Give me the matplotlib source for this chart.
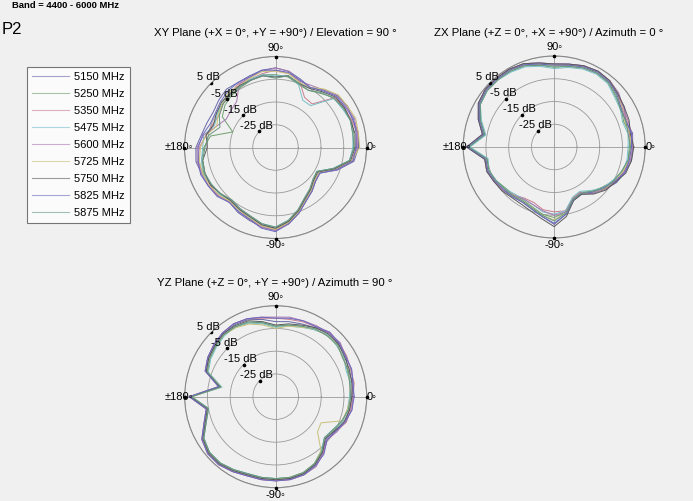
import numpy as np
import matplotlib
matplotlib.use("Agg")
import matplotlib.pyplot as plt
from matplotlib.lines import Line2D

plt.rcParams['font.family'] = ['Liberation Sans', 'DejaVu Sans']

W, H = 693, 501
BG = '#f0f0f0'

# gain in dB, sampled every 10 degrees from 0 (= +X / +Z) counter-clockwise
angles_deg = list(range(0, 360, 10))

freqs = ['5150 MHz', '5250 MHz', '5350 MHz', '5475 MHz', '5600 MHz',
         '5725 MHz', '5750 MHz', '5825 MHz', '5875 MHz']
colors = ['#6868a8', '#6f9f6f', '#c87c90', '#78c0c8', '#a878b0',
          '#c8c078', '#5a5a5a', '#6a6ac0', '#679781']

xy_db = [
    [1.5, 2, 1, 1.5, 0.5, -2, -4.5, -3, -1, 0, -0.5, -1.5, -2, -1.5, -2.5, -3.5, -3, -2,
     0, 0.5, -0.5, -1, -2, -3.5, -2, -1, 0.5, 1.5, -1, -4.5, -8, -10, -12, -12.5, -6, 0],
    [-0.5, 0, 0.5, -0.5, -1, -4, -6, -5.5, -3.5, -3, -2.5, -3.5, -4.5, -5, -6, -8, -15, -6,
     -3.5, -2, -1.5, -2.5, -3, -4.5, -3.5, -2.5, -0.5, 0.5, -2, -5.5, -9, -11, -13, -14, -8, -2],
    [0.5, 1.5, 0.5, 0, -1, -10, -9.5, -4, -2, -1, -2, -3, -2.5, -4, -5, -6.5, -5.5, -4,
     -1.5, -0.5, -1, -2, -2, -4, -3.5, -1.5, 0, 1, -1.5, -5, -8.5, -10.5, -12.5, -13, -7, -1],
    [-1, -0.5, 0, -1, -1.5, -11, -11, -5.5, -3, -3.5, -2.5, -3, -4, -3, -4.5, -5.5, -6.5, -3,
     -3, -2, -1, -2.5, -3, -5, -3.5, -2.5, -1, 0, -2.5, -5.5, -9, -11, -13, -14, -8, -2],
    [1, 1.5, 2, 1, 0.5, -2, -3.5, -4, -1, 0, -1, -2, -3, -8.5, -9.5, -10, -7.5, -3,
     -0.5, 0, -0.5, -1, -2, -3.5, -2.5, -1.5, 0.5, 1.5, -1, -4.5, -8, -10, -12, -12.5, -6.5, -0.5],
    [2, 2, 2.5, 1.5, 1, -1.5, -4.5, -4.5, -2, -1.5, -1, -2.5, -3.5, -3, -4.5, -6, -7.5, -4,
     -2, -1, -1, -1.5, -2.5, -4, -3, -2, 0, 1, -1.5, -5, -8.5, -10.5, -12.5, -13, -7, -1],
    [0, 0.5, 0, 0, -0.5, -3, -5, -5, -3, -4, -3, -3.5, -3.5, -4, -4, -5, -6, -4,
     -5, -2.5, -2, -2, -3.5, -4.5, -3.5, -2.5, -0.5, 0.5, -2, -5.5, -9, -11, -13, -13.5, -7.5, -1.5],
    [0.5, 1, 1.5, 0.5, 0, -2.5, -4.5, -3.5, -1.5, -1, -0.5, -2, -2, -2.5, -3.5, -4.5, -4.5, -2.5,
     -1, -0.5, 0, -1, -1.5, -3.5, -2.5, -1.5, 1, 2, -1, -4.5, -8, -10, -12, -12.5, -6.5, -0.5],
    [-0.5, -0.5, 0, -0.5, -1.5, -3.5, -6, -5, -3, -4.5, -3, -3.5, -4, -4.5, -5, -6.5, -9, -5,
     -4, -2.5, -2, -2.5, -3.5, -5, -4, -3, -1, 0, -2.5, -6, -9.5, -11.5, -13.5, -14, -8, -2],
]

zx_db = [
    [-0.5, 0, -1.5, 0.5, 1, 3, 3.5, 3, 2, 1.5, 2.5, 4, 4.5, 4.5, 4.5, 3.5, 0.5, -3,
     3.5, -4, -3.5, -4.5, -5.5, -6.5, -7, -6, -4, -1, -5, -10, -11, -8.5, -6, -3.5, -2, -0.5],
    [-2, -1, -2.5, -1, 0, 2, 2.5, 2, 1, 0, 1.5, 3, 3.5, 3.5, 3.5, 2.5, -0.5, -4,
     2.5, -5, -4.5, -5.5, -7, -7.5, -8, -7, -5, -4, -6, -11, -12, -9.5, -7.5, -5, -3.5, -2],
    [-1, -1.5, -1, -0.5, 1.5, 2.5, 3, 2.5, 1.5, 1, 2, 3.5, 4, 4, 4, 3, 0, -3.5,
     3, -4.5, -4, -5, -6, -7.5, -9, -9, -7, -6.5, -6.5, -11, -12, -9, -6, -4.5, -2.5, -1.5],
    [-2.5, -2, -3, -1.5, -0.5, 1.5, 2, 1.5, 0.5, -0.5, 1, 2.5, 3, 3.5, 3.5, 2.5, -1, -4.5,
     2, -5.5, -4.5, -5.5, -6.5, -8, -8.5, -8, -6, -5.5, -6.5, -11.5, -12.5, -10, -7, -5.5, -3, -2.5],
    [-0.5, -0.5, -0.5, 0, 2, 3, 3.5, 3, 2, 1.5, 2.5, 4, 4.5, 4.5, 4.5, 3.5, 0.5, -3,
     3.5, -4, -3.5, -4.5, -5.5, -7, -8.5, -8, -6.5, -5, -6, -10.5, -11.5, -8.5, -6.5, -4, -2.5, -1],
    [-1.5, -1, -2, -0.5, 1, 2.5, 3, 2.5, 1.5, 1, 2, 3.5, 4, 4, 4, 3, 0, -3.5,
     3, -4.5, -4, -5, -6, -7, -7.5, -6.5, -4.5, -3, -5.5, -10.5, -11.5, -9, -6.5, -4.5, -3, -1.5],
    [0, -1, 0, 0.5, 1.5, 3, 3.5, 3, 2, 1.5, 2.5, 4, 4.5, 4.5, 4.5, 3.5, 0.5, -3,
     3.5, -4, -3.5, -4.5, -5, -6, -6, -5, -3, 0, -4, -10, -11, -8, -5.5, -4, -1.5, -0.5],
    [-1, -0.5, -1.5, -1, 1, 2.5, 3, 2.5, 1.5, 1, 2, 3.5, 4, 4, 4, 3, 0, -3.5,
     3, -4.5, -4, -5, -6, -6.5, -7, -6, -4, -1.5, -5, -10.5, -11.5, -9, -7, -4.5, -2, -1.5],
    [-1.5, -2, -1.5, -1.5, 0.5, 2, 2.5, 2, 1, 0.5, 1.5, 3, 3.5, 3.5, 3.5, 2.5, -0.5, -4,
     2.5, -5, -4.5, -5.5, -6.5, -7, -7.5, -6.5, -4.5, -2.5, -5.5, -10.5, -11.5, -9.5, -6.5, -5, -3.5, -2],
]

yz_db = [
    [-1.5, -0.5, -1, 0.5, 1, 1.5, 0, -1, -1.5, -2, -0.5, 1, 1.5, 1, 0, -1, -2.5, -10,
     2.5, -4.5, -2, 2, 3.5, 3.5, 2.5, 1.5, 1.5, 1.5, 1.5, 1, -0.5, -3, -6, -5, -2.5, -2],
    [-2.5, -1.5, -1.5, -0.5, 0, 0.5, -1, -2, -3, -4, -2, -0.5, 0.5, 0.5, -0.5, -1.5, -3, -10.5,
     2, -5, -2.5, 1.5, 3, 3, 2, 1, 1, 1, 1, 0.5, -1, -3.5, -7, -5.5, -4, -2.5],
    [-1, 0, 0, 1, 1.5, 2, 0.5, 0, -0.5, -0.5, 0, 1.5, 2, 1.5, 0.5, -0.5, -2, -9.5,
     3, -4, -1.5, 2.5, 4, 4, 3, 2, 2, 2, 2, 1.5, 0, -2.5, -5.5, -4.5, -2, -1.5],
    [-2.5, -1.5, -2, -0.5, 0, 0.5, -1, -2.5, -3.5, -4.5, -2.5, -0.5, 0.5, 0, -1, -2, -3.5, -11,
     2, -5, -2.5, 1.5, 3, 3, 2, 1, 1, 1, 1, 0.5, -1, -4, -7, -6, -3.5, -3],
    [-1, -0.5, 0.5, 0.5, 2, 1.5, 1, 0.5, 0.5, 0, 0.5, 1.5, 2, 1.5, 0.5, -0.5, -2, -9.5,
     3, -4, -1.5, 2.5, 4, 4, 3, 2, 2, 2, 2, 1.5, 0.5, -2.5, -5.5, -4, -2.5, -1],
    [-2, -2, -1, -1, 0.5, 0, -0.5, -2.5, -3.5, -5, -3, -1, 0, 0.5, -0.5, -1.5, -3, -10.5,
     2, -4.5, -2, 2, 3.5, 3.5, 2.5, 1.5, 1.5, 1.5, 1, 0.5, -1, -4, -11, -12, -4, -3],
    [-1.5, -1, -0.5, 0, 1, 1, 0, -1.5, -2.5, -3.5, -1.5, 0.5, 1, 1, 0, -1, -2.5, -10,
     2.5, -4.5, -2, 2, 3.5, 3.5, 2.5, 1.5, 1.5, 1.5, 1.5, 1, -0.5, -3, -6.5, -5, -3, -2],
    [-0.5, -0.5, 0.5, 0.5, 1.5, 2, 0.5, 0.5, 0, -0.5, 0.5, 1.5, 2, 1.5, 0.5, -0.5, -2, -9.5,
     3, -4, -1.5, 2.5, 4, 4, 3, 2, 2, 2, 2, 1.5, 0, -2, -5.5, -4.5, -2.5, -1],
    [-2, -2, -1, -1, 0.5, 0, -0.5, -2, -3, -4, -2, 0, 0.5, 0.5, -0.5, -1.5, -3, -10.5,
     2, -5, -2.5, 1.5, 3, 3, 2, 1, 1, 1, 1, 0.5, -1, -3.5, -7, -6, -4, -2.5],
]

ring_db = [-25, -15, -5, 5]
ring_labels = ['-25 dB', '-15 dB', '-5 dB', '5 dB']
r_min, r_max = -35, 5
theta_labels = ['0\u25e6', '90\u25e6', '\u00b1180\u25e6', '-90\u25e6']


def px_box(cx, cy, r):
    return [(cx - r) / W, (H - cy - r) / H, 2 * r / W, 2 * r / H]


def polar_panel(fig, box, data):
    ax = fig.add_axes(box, projection='polar')
    ax.set_facecolor(BG)
    th = np.deg2rad(angles_deg + [angles_deg[0]])
    for vals, c in zip(data, colors):
        ax.plot(th, list(vals) + [vals[0]], color=c, lw=0.7)
    ax.set_ylim(r_min, r_max)
    ax.set_yticks(ring_db)
    ax.set_yticklabels([])
    ax.set_xticks(np.deg2rad([0, 90, 180, 270]))
    ax.set_xticklabels([])
    ax.grid(True, color='#999999', lw=0.6)
    ax.spines['polar'].set_color('#888888')
    ax.spines['polar'].set_linewidth(0.8)

    # ring labels along the 135 degree direction
    t = np.deg2rad(135)
    for v, lab in zip(ring_db, ring_labels):
        ax.plot([t], [v], marker='o', ms=1.6, color='k', zorder=5)
        ax.annotate(lab, (t, v), xytext=(-2, 0.5), textcoords='offset points',
                    ha='center', va='bottom', fontsize=8, zorder=6)

    # angle labels around the outer circle
    ax.plot(np.deg2rad([0, 90, 180, 270]), [r_max] * 4, ls='none', marker='o',
            ms=1.6, color='k', clip_on=False, zorder=5)
    kw = dict(transform=ax.transAxes, fontsize=8)
    ax.text(1.0, 0.5, theta_labels[0], ha='left', va='center', **kw)
    ax.text(0.5, 1.02, theta_labels[1], ha='center', va='bottom', **kw)
    ax.text(0.047, 0.5, theta_labels[2], ha='right', va='center', **kw)
    ax.text(0.5, -0.01, theta_labels[3], ha='center', va='top', **kw)
    return ax


fig = plt.figure(figsize=(W / 100, H / 100), dpi=100, facecolor=BG)

polar_panel(fig, px_box(275.5, 147.5, 91), xy_db)
polar_panel(fig, px_box(554.2, 147, 91), zx_db)
polar_panel(fig, px_box(275.7, 396.7, 91), yz_db)

fig.text(275 / W, 1 - 33 / H, 'XY Plane (+X = 0\u00b0, +Y = +90\u00b0) / Elevation = 90 \u00b0',
         ha='center', va='center', fontsize=8.2)
fig.text(549 / W, 1 - 32.5 / H, 'ZX Plane (+Z = 0\u00b0, +X = +90\u00b0) / Azimuth = 0 \u00b0',
         ha='center', va='center', fontsize=8.2)
fig.text(275 / W, 1 - 283 / H, 'YZ Plane (+Z = 0\u00b0, +Y = +90\u00b0) / Azimuth = 90 \u00b0',
         ha='center', va='center', fontsize=8.2)

fig.text(12.5 / W, 1 - 5.5 / H, 'Band = 4400 - 6000 MHz', ha='left', va='center',
         fontsize=6.8, fontweight='bold')
fig.text(2 / W, 1 - 29 / H, 'P2', ha='left', va='center', fontsize=12)

handles = [Line2D([], [], color=c, lw=0.8, alpha=0.6) for c in colors]
leg = fig.legend(handles, freqs, loc='upper left', bbox_to_anchor=(27.3 / W, 1 - 66.7 / H),
                 borderaxespad=0, frameon=True, fancybox=False, fontsize=8,
                 handlelength=3.3, handletextpad=0.45, labelspacing=0.63, borderpad=0.45)
leg.get_frame().set_facecolor('white')
leg.get_frame().set_edgecolor('#555555')
leg.get_frame().set_linewidth(0.8)

fig.savefig('out.png', dpi=100, facecolor=BG)
